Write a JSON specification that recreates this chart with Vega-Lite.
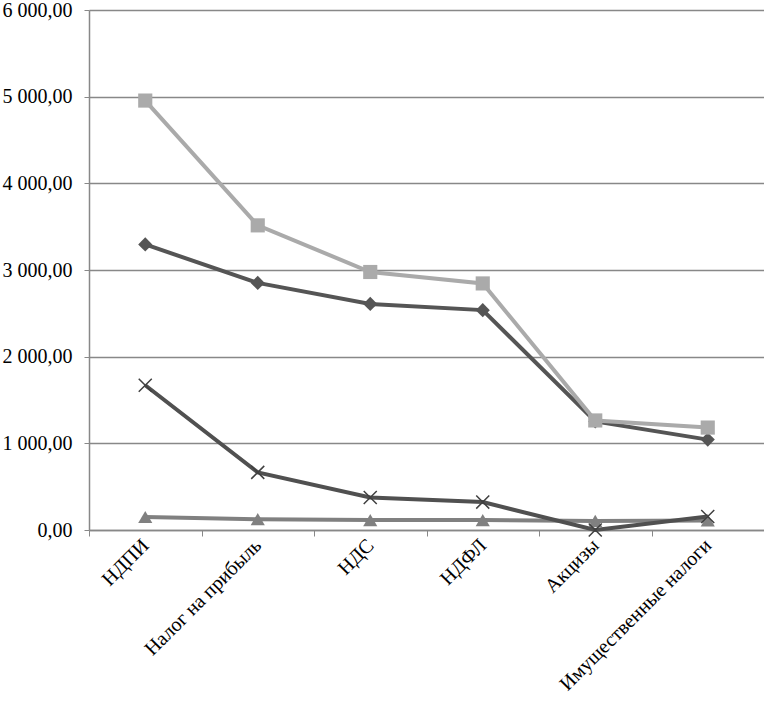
{
  "$schema": "https://vega.github.io/schema/vega-lite/v6.json",
  "width": 675,
  "height": 520,
  "autosize": "none",
  "padding": {"left": 89, "top": 10, "right": 0, "bottom": 176},
  "background": "white",
  "config": {
    "locale": {"number": {"decimal": ",", "thousands": " ", "grouping": [3], "currency": ["", ""]}},
    "view": {"stroke": null},
    "font": "Liberation Serif"
  },
  "data": {
    "values": [
      {"tax": "НДПИ", "series": "Ряд1", "value": 3295},
      {"tax": "Налог на прибыль", "series": "Ряд1", "value": 2851},
      {"tax": "НДС", "series": "Ряд1", "value": 2609},
      {"tax": "НДФЛ", "series": "Ряд1", "value": 2537},
      {"tax": "Акцизы", "series": "Ряд1", "value": 1253},
      {"tax": "Имущественные налоги", "series": "Ряд1", "value": 1043},
      {"tax": "НДПИ", "series": "Ряд2", "value": 4955},
      {"tax": "Налог на прибыль", "series": "Ряд2", "value": 3515},
      {"tax": "НДС", "series": "Ряд2", "value": 2977},
      {"tax": "НДФЛ", "series": "Ряд2", "value": 2845},
      {"tax": "Акцизы", "series": "Ряд2", "value": 1264},
      {"tax": "Имущественные налоги", "series": "Ряд2", "value": 1182},
      {"tax": "НДПИ", "series": "Ряд3", "value": 150},
      {"tax": "Налог на прибыль", "series": "Ряд3", "value": 125},
      {"tax": "НДС", "series": "Ряд3", "value": 115},
      {"tax": "НДФЛ", "series": "Ряд3", "value": 115},
      {"tax": "Акцизы", "series": "Ряд3", "value": 105},
      {"tax": "Имущественные налоги", "series": "Ряд3", "value": 110},
      {"tax": "НДПИ", "series": "Ряд4", "value": 1670},
      {"tax": "Налог на прибыль", "series": "Ряд4", "value": 665},
      {"tax": "НДС", "series": "Ряд4", "value": 375},
      {"tax": "НДФЛ", "series": "Ряд4", "value": 322},
      {"tax": "Акцизы", "series": "Ряд4", "value": 0},
      {"tax": "Имущественные налоги", "series": "Ряд4", "value": 155}
    ]
  },
  "encoding": {
    "x": {
      "field": "tax", "type": "nominal", "sort": null, "title": null,
      "scale": {"type": "band", "paddingInner": 0, "paddingOuter": 0},
      "axis": {
        "labelAngle": -45, "labelAlign": "right", "labelBaseline": "middle",
        "labelFontSize": 20, "labelColor": "#000000", "labelFont": "Liberation Serif",
        "labelLimit": 400, "labelOverlap": false,
        "tickBand": "extent", "tickSize": 6, "tickColor": "#888888",
        "domainColor": "#888888", "domainWidth": 1.5, "labelPadding": 6, "grid": false
      }
    },
    "y": {
      "field": "value", "type": "quantitative", "title": null,
      "scale": {"domain": [0, 6000], "nice": false},
      "axis": {
        "values": [0, 1000, 2000, 3000, 4000, 5000, 6000],
        "format": ",.2f", "labelFontSize": 20, "labelColor": "#000000", "labelFont": "Liberation Serif",
        "tickSize": 5, "tickColor": "#888888", "domainColor": "#888888", "domainWidth": 1.5,
        "gridColor": "#888888", "gridWidth": 1.5, "labelPadding": 12
      }
    }
  },
  "layer": [
    {
      "mark": {"type": "line", "strokeWidth": 4},
      "encoding": {
        "color": {
          "field": "series", "type": "nominal", "legend": null,
          "scale": {"domain": ["Ряд1", "Ряд2", "Ряд3", "Ряд4"], "range": ["#555555", "#aaaaaa", "#808080", "#505050"]}
        },
        "order": {"value": 0}
      }
    },
    {
      "transform": [{"filter": "datum.series !== 'Ряд4'"}],
      "mark": {"type": "point", "filled": true, "opacity": 1, "size": 200},
      "encoding": {
        "color": {
          "field": "series", "type": "nominal", "legend": null,
          "scale": {"domain": ["Ряд1", "Ряд2", "Ряд3", "Ряд4"], "range": ["#555555", "#aaaaaa", "#808080", "#505050"]}
        },
        "shape": {
          "field": "series", "type": "nominal", "legend": null,
          "scale": {"domain": ["Ряд1", "Ряд2", "Ряд3"], "range": ["diamond", "square", "triangle-up"]}
        }
      }
    },
    {
      "transform": [{"filter": "datum.series === 'Ряд4'"}],
      "mark": {"type": "point", "filled": false, "opacity": 1, "size": 170, "shape": "M-1,-1L1,1M1,-1L-1,1", "stroke": "#404040", "strokeWidth": 1.5}
    }
  ]
}
